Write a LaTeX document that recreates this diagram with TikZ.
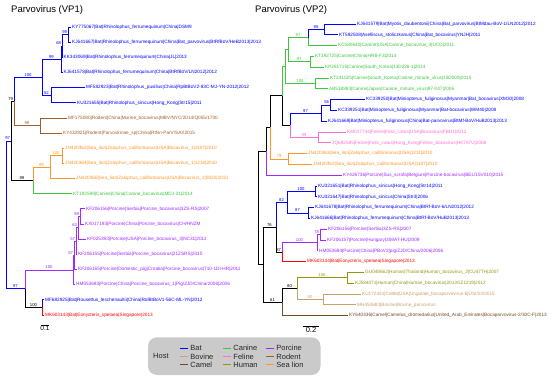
\documentclass[tikz,border=0pt]{standalone}
\usepackage{fontspec}
\setmainfont{Liberation Sans}
\usetikzlibrary{positioning}

\definecolor{bat}{RGB}{0,0,255}
\definecolor{bovine}{RGB}{204,160,110}
\definecolor{camel}{RGB}{110,75,40}
\definecolor{canine}{RGB}{60,200,60}
\definecolor{feline}{RGB}{255,110,210}
\definecolor{human}{RGB}{150,150,20}
\definecolor{porcine}{RGB}{160,40,255}
\definecolor{rodent}{RGB}{160,95,40}
\definecolor{sealion}{RGB}{255,150,40}
\definecolor{novel}{RGB}{255,0,0}
\definecolor{leggray}{RGB}{202,202,202}

\tikzset{
  leaf/.style={anchor=west, inner sep=1pt, font=\fontsize{4.7}{5}\selectfont},
  boot/.style={pos=0.75, above, inner sep=0.6pt, font=\fontsize{4.2}{5}\selectfont},
  bootl/.style={boot, pos=1, anchor=south east},
  br/.style={line width=0.9pt},
  title/.style={anchor=west, inner sep=0pt, font=\fontsize{9.5}{11}\selectfont},
  legtext/.style={anchor=west, inner sep=0pt, text=black!85, font=\fontsize{7.5}{8}\selectfont},
}

\begin{document}
\begin{tikzpicture}[x=1pt, y=-1pt]
\useasboundingbox (0,0) rectangle (550,380);
\fill[white] (0,0) rectangle (550,380);

% Titles
\node[title] (t1) at (11,10) {Parvovirus (VP1)};
\node[title] (t2) at (255,10) {Parvovirus (VP2)};

% VP1 leaves
\node[leaf, text=bat] (L1) at (71,27) {KY775067|Bat|Rhinolophus\_ferrumequinum|China|DSM9};
\node[leaf, text=bat] (L2) at (71,42.2) {KJ641667|Bat|Rhinolophus\_ferrumequinum|China|Bat\_parvovirus|BtRfBoV/HeB2013|2013};
\node[leaf, text=bat] (L3) at (62.5,57.3) {KK343069|Bat|Rhinolophus\_ferrumequinum|China|JL|2013};
\node[leaf, text=bat] (L4) at (62.5,72.5) {KJ641578|Bat|Rhinolophus\_ferrumequinum|China|BtRfBoV/LN2012|2012};
\node[leaf, text=bat] (L5) at (85,87.6) {MF582923|Bat|Rhinolophus\_pusillus|China|RpBtBoV2-83C-MJ-YN-2012|2012};
\node[leaf, text=bat] (L6) at (76,102.8) {KU321655|Bat|Rhinolophus\_sinicus|Hong\_Kong|Str15|2011};
\node[leaf, text=rodent] (L7) at (67,118) {MF175080|Rodent|China|Murine\_bocavirus|MBV/NYC/2014/Q055/1700};
\node[leaf, text=rodent] (L8) at (62,133.1) {KY432921|Rodent|Parvovirinae\_sp|China|RtNn-ParV/SAX2015};
\node[leaf, text=sealion] (L9) at (64,148.3) {JN420362|Sea\_lion|Zalophus\_californianus|USA|Bocavirus\_1|1187|2010};
\node[leaf, text=sealion] (L10) at (64,163.4) {JN420364|Sea\_lion|Zalophus\_californianus|USA|Bocavirus\_1|1218|2010};
\node[leaf, text=sealion] (L11) at (75,178.6) {JN420366|Sea\_lion|Zalophus\_californianus|USA|Bocavirus\_2|0822|2010};
\node[leaf, text=canine] (L12) at (72,193.8) {KT192599|Canine|China|Canine\_bocavirus|MDJ-21|2014};
\node[leaf, text=porcine] (L13) at (85,208.9) {KF206156|Porcine|Serbia|Porcine\_bocavirus|3ZS-RS|2007};
\node[leaf, text=porcine] (L14) at (84,224.1) {KX017193|Porcine|China|Porcine\_bocavirus|CH/HNZM};
\node[leaf, text=porcine] (L15) at (86,239.2) {KF025393|Porcine|USA|Porcine\_bocavirus\_3|NC31|2011};
\node[leaf, text=porcine] (L16) at (77,254.4) {KF206155|Porcine|Serbia|Porcine\_bocavirus|21ZSRS|2010};
\node[leaf, text=porcine] (L17) at (77,269.6) {KF206165|Porcine|Domestic\_pig|Croatia|Porcine\_bocavirus|710-1DI-HR|2011};
\node[leaf, text=porcine] (L18) at (75,284.7) {HM053693|Porcine|China|Porcine\_bocavirus\_1|Pig/ZJD/China/2006|2006};
\node[leaf, text=bat] (L19) at (44,299.9) {MF682925|Bat|Rousettus\_leschenaultii|China|RolBtBoV1-56C-ML-YN|2012};
\node[leaf, text=novel] (L20) at (44,315) {MK603143|Bat|Eonycteris\_spelaea|Singapore|2013};

% VP1 inner nodes
\coordinate (A) at (68,34.6);
\coordinate (B) at (62,45.95);
\coordinate (C) at (61,59.2);
\coordinate (E) at (51,95.2);
\coordinate (D) at (42,77.2);
\coordinate (F) at (40,125.55);
\coordinate (W) at (14,101.4);
\coordinate (S1) at (62,155.85);
\coordinate (S2) at (50,167.2);
\coordinate (SC) at (33,180.5);
\coordinate (W2) at (11,140.95);
\coordinate (P1) at (80,216.5);
\coordinate (P2) at (78,227.85);
\coordinate (P3) at (76,241.1);
\coordinate (P4) at (74,255.35);
\coordinate (P5) at (73,270);
\coordinate (BT) at (42,307.45);
\coordinate (X) at (25,288.7);
\coordinate (R) at (6,214.8);

% VP1 branches
\draw[br,bat] (A) |- (L1) (A) |- (L2);
\draw[br,bat] (B) |- node[bootl] (bA) {99} (A) (B) |- (L3);
\draw[br,bat] (C) |- node[bootl] (bB) {68} (B) (C) |- (L4);
\draw[br,bat] (E) |- (L5) (E) |- (L6);
\draw[br,bat] (D) |- node[boot] (bC) {99} (C) (D) |- node[boot] (bE) {52} (E);
\draw[br,rodent] (F) |- (L7) (F) |- (L8);
\draw[br,bat] (W) |- node[boot] (bD) {100} (D);
\draw[br,rodent] (W) |- node[boot] (bF) {99} (F);
\draw[br,sealion] (S1) |- (L9) (S1) |- (L10);
\draw[br,sealion] (S2) |- node[boot] (bS1) {100} (S1) (S2) |- (L11);
\draw[br,sealion] (SC) |- node[boot] (bS2) {99} (S2);
\draw[br,canine] (SC) |- (L12);
\draw[br,black] (W2) |- node[bootl] (bW) {79} (W) (W2) |- node[boot] (bSC) {99} (SC);
\draw[br,porcine] (P1) |- (L13) (P1) |- (L14);
\draw[br,porcine] (P2) |- node[bootl] (bP1) {89} (P1) (P2) |- (L15);
\draw[br,porcine] (P3) |- node[bootl] (bP2) {63} (P2) (P3) |- (L16);
\draw[br,porcine] (P4) |- node[bootl] (bP3) {57} (P3) (P4) |- (L17);
\draw[br,porcine] (P5) |- node[bootl] (bP4) {57} (P4) (P5) |- (L18);
\draw[br,bat] (BT) |- (L19);
\draw[br,novel] (BT) |- (L20);
\draw[br,porcine] (X) |- node[boot] (bP5) {100} (P5);
\draw[br,black] (X) |- node[boot] (bBT) {100} (BT);
\draw[br,bat] (R) |- node[bootl] (bW2) {97} (W2) (R) |- node[boot] (bX) {97} (X);

% VP1 scale
\coordinate (s1) at (41,325);
\draw[br,black] (s1) -- ++(8,0) node[midway, below=1pt, inner sep=0pt, font=\fontsize{6.5}{7}\selectfont] (s1t) {0.1};

% VP2 leaves
\node[leaf, text=bat] (R1) at (356,24) {KJ641579|Bat|Myotis\_daubentonii|China|Bat\_parvovirus|BtMdau-BoV-1/LN2012|2012};
\node[leaf, text=bat] (R2) at (338,34.8) {KT592508|Aselliscus\_stoliczkanus|China|Bat\_bocavirus|YNJH|2011};
\node[leaf, text=canine] (R3) at (337,45.6) {KC580640|Canine|USA|Canine\_bocavirus\_3|UCD|2011};
\node[leaf, text=canine] (R4) at (314,56.4) {KT192725|Canine|China|HRB-F3|2014};
\node[leaf, text=canine] (R5) at (324,67.2) {KP281715|Canine|South\_Korea|13D226-1|2014};
\node[leaf, text=canine] (R6) at (329,78) {KT241025|Canine|South\_Korea|Canine\_minute\_virus|15D009|2015};
\node[leaf, text=canine] (R7) at (328,88.8) {AB518883|Canine|Japan|Canine\_minute\_virus|97-047|2006};
\node[leaf, text=bat] (R8) at (365,99.6) {KC339250|Bat|Miniopterus\_fuliginosus|Myanmar|Bat\_bocavirus|XM30|2008};
\node[leaf, text=bat] (R9) at (337,110.4) {KC339251|Bat|Miniopterus\_fuliginosus|Myanmar|Bat-bocavirus|WM40|2008};
\node[leaf, text=bat] (R10) at (327,121.2) {KJ641669|Bat|Miniopterus\_fuliginosus|China|Bat-parvovirus|BtMf-BoV/HuB2013|2013};
\node[leaf, text=feline] (R11) at (346,132) {KM017744|Feline|Felis\_catus|USA|Bocavirus|FBD1|2012};
\node[leaf, text=feline] (R12) at (331,142.8) {JQ692585|Feline|Felis\_catus|Hong\_Kong|Feline\_bocavirus|HK797U|2008};
\node[leaf, text=sealion] (R13) at (307,153.6) {JN420363|Sea\_lion|Zalophus\_californianus|USA|1211|2010};
\node[leaf, text=sealion] (R14) at (312,164.4) {JN420362|Sea\_lion|Zalophus\_californianus|USA|1187|2010};
\node[leaf, text=porcine] (R15) at (342,175.2) {KY426736|Porcine|Sus\_scrofa|Belgium|Porcine-bocavirus|BEL/15V010|2015};
\node[leaf, text=bat] (R16) at (317,186) {KU321651|Bat|Rhinolophus\_sinicus|Hong\_Kong|Str14|2011};
\node[leaf, text=bat] (R17) at (317,196.8) {KU321647|Bat|Rhinolophus\_sinicus|China|Str3|2006};
\node[leaf, text=bat] (R18) at (314,207.6) {KJ641678|Bat|Rhinolophus\_ferrumequinum|China|BtRf-BoV-6/LN2012|2012};
\node[leaf, text=bat] (R19) at (310,218.4) {KJ641666|Bat|Rhinolophus\_ferrumequinum|China|BtRf-BoV/HuB2013|2013};
\node[leaf, text=porcine] (R20) at (327,229.2) {KF206156|Porcine|Serbia|3ZS-RS|2007};
\node[leaf, text=porcine] (R21) at (326,240) {KF206157|Porcine|Hungary|359AT-HU|2009};
\node[leaf, text=porcine] (R22) at (318,250.8) {HM053694|Porcine|China|PBoV2|pig/ZJD/China/2006|2006};
\node[leaf, text=novel] (R23) at (306,261.6) {MK603144|Bat|Eonycteris\_spelaea|Singapore|2013};
\node[leaf, text=human] (R24) at (364,272.4) {GU048662|Human|Thailand|Human\_bocavirus\_2|CU47TH|2007};
\node[leaf, text=human] (R25) at (354,283.2) {KJ584071|Human|China|Human\_bocavirus|2013GZ1219|2012};
\node[leaf, text=bovine] (R26) at (361,294) {KU172421|Cattle|USA|Ungulate\_bocaparvovirus-6|USI/03/2015};
\node[leaf, text=bovine] (R27) at (356,304.8) {MH453683|Bovine|Bovine\_parvovirus};
\node[leaf, text=camel] (R28) at (348,315.6) {KY640436|Camel|Camelus\_dromedarius|United\_Arab\_Emirates|Bocaparvovirus-2/30C-F|2013};

% VP2 inner nodes
\coordinate (N1) at (324,29.4);
\coordinate (N2) at (308,37.5);
\coordinate (N3) at (310,61.8);
\coordinate (N5) at (288,49.65);
\coordinate (N4) at (315,83.4);
\coordinate (G) at (285,66.5);
\coordinate (B1) at (330,105);
\coordinate (B2) at (321,113.1);
\coordinate (F1) at (318,137.4);
\coordinate (BF) at (290,125.25);
\coordinate (K) at (282,95.9);
\coordinate (O) at (288,159);
\coordinate (M1) at (270,127.45);
\coordinate (M2) at (266,151.3);
\coordinate (BR100) at (315,191.4);
\coordinate (BR87) at (308,213);
\coordinate (BR) at (287,202.2);
\coordinate (P78) at (320,234.6);
\coordinate (P100) at (317,242.7);
\coordinate (N87) at (282,252.15);
\coordinate (N76) at (276,227.2);
\coordinate (H100) at (347,277.8);
\coordinate (B92) at (323,299.4);
\coordinate (N80) at (297,288.6);
\coordinate (N61) at (282,302.1);
\coordinate (NL) at (263,264.6);
\coordinate (RT) at (258,208);

% VP2 branches
\draw[br,bat] (N1) |- (R1) (N1) |- (R2);
\draw[br,bat] (N2) |- node[boot] (bN1) {95} (N1);
\draw[br,canine] (N2) |- (R3);
\draw[br,canine] (N3) |- (R4) (N3) |- (R5);
\draw[br,canine] (N5) |- node[boot] (bN2) {97} (N2) (N5) |- node[boot] (bN3) {97} (N3);
\draw[br,canine] (N4) |- (R6) (N4) |- (R7);
\draw[br,canine] (G) |- (N5) (G) |- node[boot] (bN4) {100} (N4);
\draw[br,bat] (B1) |- (R8) (B1) |- (R9);
\draw[br,bat] (B2) |- node[bootl] (bB1) {56} (B1) (B2) |- (R10);
\draw[br,feline] (F1) |- (R11) (F1) |- (R12);
\draw[br,bat] (BF) |- node[boot] (bB2) {97} (B2);
\draw[br,feline] (BF) |- node[boot] (bF1) {99} (F1);
\draw[br,canine] (K) |- (G);
\draw[br,black] (K) |- (BF);
\draw[br,sealion] (O) |- (R13) (O) |- (R14);
\draw[br,black] (M1) |- (K);
\draw[br,sealion] (M1) |- node[boot] (bO) {79} (O);
\draw[br,black] (M2) |- (M1);
\draw[br,porcine] (M2) |- (R15);
\draw[br,bat] (BR100) |- (R16) (BR100) |- (R17);
\draw[br,bat] (BR87) |- (R18) (BR87) |- (R19);
\draw[br,bat] (BR) |- node[boot] (bBR100) {100} (BR100) (BR) |- node[boot] (bBR87) {87} (BR87);
\draw[br,porcine] (P78) |- (R20) (P78) |- (R21);
\draw[br,porcine] (P100) |- node[bootl] (bP78) {78} (P78) (P100) |- (R22);
\draw[br,porcine] (N87) |- node[boot] (bP100) {100} (P100);
\draw[br,novel] (N87) |- (R23);
\draw[br,bat] (N76) |- node[boot] (bBR) {82} (BR);
\draw[br,black] (N76) |- node[bootl] (bN87) {87} (N87);
\draw[br,human] (H100) |- (R24) (H100) |- (R25);
\draw[br,bovine] (B92) |- (R26) (B92) |- (R27);
\draw[br,human] (N80) |- node[boot] (bH100) {100} (H100);
\draw[br,bovine] (N80) |- node[boot] (bB92) {92} (B92);
\draw[br,black] (N61) |- node[boot] (bN80) {80} (N80);
\draw[br,camel] (N61) |- (R28);
\draw[br,black] (NL) |- node[boot] (bN76) {76} (N76) (NL) |- node[boot] (bN61) {61} (N61);
\draw[br,black] (RT) |- (M2) (RT) |- (NL);

% VP2 scale
\coordinate (s2) at (303,326);
\draw[br,black] (s2) -- ++(16,0) node[midway, below=1pt, inner sep=0pt, font=\fontsize{7.5}{8}\selectfont] (s2t) {0.2};

% Legend
\fill[leggray, rounded corners=9pt] (148,337.3) rectangle (320.5,375);
\node[legtext] (host) at (153,356) {Host};
\foreach \c/\t/\x/\y in {bat/Bat/180/348.3, bovine/Bovine/180/356.6, camel/Camel/180/364.9,
    canine/Canine/223/348.3, feline/Feline/223/356.6, human/Human/223/364.9,
    porcine/Porcine/266/348.3, rodent/Rodent/266/356.6, sealion/Sea lion/266/364.9}{
  \draw[\c, line width=0.9pt] (\x,\y) -- ++(8,0) node[legtext, right=2pt] (leg-\c) {\t};
}
\end{tikzpicture}
\end{document}
